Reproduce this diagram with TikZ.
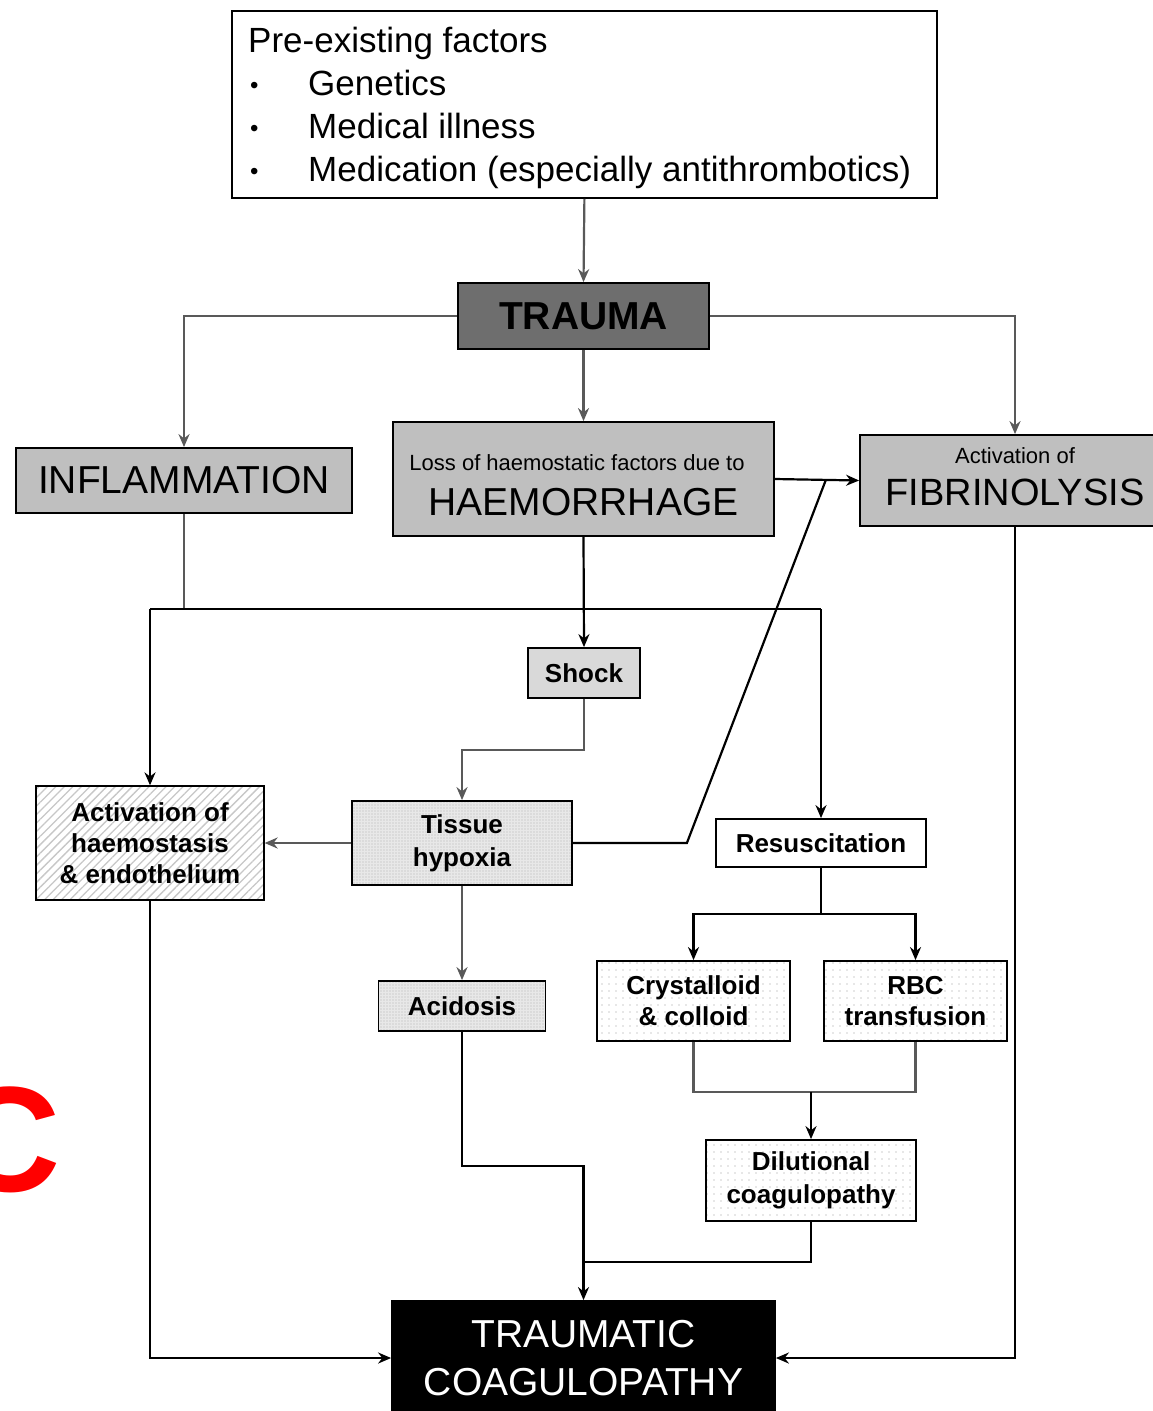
\documentclass[tikz,border=0pt]{standalone}
\usepackage{fontspec}
\setmainfont{Liberation Sans}
\usetikzlibrary{arrows.meta,patterns.meta,calc}
\begin{document}
\begin{tikzpicture}[x=1pt,y=-1pt,
  box/.style={draw=black,line width=1.8pt,inner sep=0pt,align=center,text=black},
  bold26/.style={font=\fontsize{26}{31}\selectfont\bfseries},
  conn/.style={draw=black!65,line width=2.2pt},
  blk/.style={draw=black,line width=2.2pt},
  arr/.style={-{Stealth[length=13pt,width=11pt]}},
  densedots/.style={preaction={fill=black!9},pattern={Dots[distance=3pt,radius=0.55pt]},pattern color=black!30},
  sparsedots/.style={preaction={fill=white},pattern={Dots[distance=7pt,radius=0.7pt]},pattern color=black!40},
  hatch/.style={preaction={fill=white},pattern={Lines[angle=45,distance=6pt,line width=1.3pt]},pattern color=black!22}
]
\useasboundingbox (0,0) rectangle (1153,1411);

% panel label
\node[text=red,draw=red,line width=3pt,inner sep=0pt,font=\fontsize{150}{150}\selectfont\bfseries,draw=none] (lblC) at (7,1140) {C};

% top box
\node[box,anchor=north west,minimum width=705pt,minimum height=187pt] (pre) at (231,10) {};
\begin{scope}[every node/.style={anchor=base west,inner sep=0pt,font=\fontsize{35}{43}\selectfont}]
\node (pre1) at (248,52) {Pre-existing factors};
\node[font=\fontsize{24}{43}\selectfont] (b1) at (250,93) {•};
\node (pre2) at (308,95) {Genetics};
\node[font=\fontsize{24}{43}\selectfont] (b2) at (250,136) {•};
\node (pre3) at (308,138) {Medical illness};
\node[font=\fontsize{24}{43}\selectfont] (b3) at (250,179) {•};
\node (pre4) at (308,181) {Medication (especially antithrombotics)};
\end{scope}

% main nodes
\node[box,fill=black!57,minimum width=251pt,minimum height=66pt,font=\fontsize{39}{44}\selectfont\bfseries] (trauma) at (583.5,316) {TRAUMA};
\node[box,fill=black!25,minimum width=336pt,minimum height=65pt,font=\fontsize{39}{44}\selectfont] (infl) at (184,480.5) {INFLAMMATION};
\node[box,fill=black!25,minimum width=381pt,minimum height=114pt] (haem) at (583.5,479) {};
\node[inner sep=0pt,font=\fontsize{22}{24}\selectfont] (haemA) at (577,463) {Loss of haemostatic factors due to};
\node[inner sep=0pt,font=\fontsize{39}{44}\selectfont] (haemB) at (583.5,502) {HAEMORRHAGE};
\node[box,fill=black!25,minimum width=310pt,minimum height=91pt] (fib) at (1015,480.5) {};
\node[inner sep=0pt,font=\fontsize{22}{24}\selectfont] (fibA) at (1015,456) {Activation of};
\node[inner sep=0pt,font=\fontsize{38}{44}\selectfont] (fibB) at (1015,492) {FIBRINOLYSIS};

\node[box,fill=black!15,minimum width=112pt,minimum height=50pt,bold26] (shock) at (584,673) {Shock};
\node[box,hatch,minimum width=228pt,minimum height=114pt,bold26] (act) at (150,843) {Activation of\\haemostasis\\\& endothelium};
\node[box,densedots,minimum width=220pt,minimum height=84pt,font=\fontsize{26}{33}\selectfont\bfseries] (hyp) at (462,843) {Tissue\\hypoxia};
\node[box,fill=white,minimum width=210pt,minimum height=48pt,bold26] (resus) at (821,843) {Resuscitation};
\node[box,sparsedots,minimum width=193pt,minimum height=80pt,bold26] (cryst) at (693.5,1001) {Crystalloid\\\& colloid};
\node[box,sparsedots,minimum width=183pt,minimum height=80pt,bold26] (rbc) at (915.5,1001) {RBC\\transfusion};
\node[box,densedots,minimum width=167pt,minimum height=50pt,bold26] (acid) at (462,1006) {Acidosis};
\node[box,sparsedots,minimum width=210pt,minimum height=81pt,font=\fontsize{26}{33}\selectfont\bfseries] (dil) at (811,1180.5) {Dilutional\\coagulopathy};
\node[box,fill=black,text=white,minimum width=383pt,minimum height=114pt,font=\fontsize{39}{48}\selectfont] (tc) at (583.5,1358) {TRAUMATIC\\COAGULOPATHY};

% connectors
\coordinate (hl) at (0,609);
\draw[conn,arr] (pre.south) -- (trauma.north);
\draw[conn,arr] (trauma.west) -| (infl.north);
\draw[conn,arr] (trauma.south) -- (haem.north);
\draw[conn,arr] (trauma.east) -| (fib.north);
\draw[blk,arr] (haem.east) -- (fib.west);
\draw[blk,arr] (haem.south) -- (shock.north);
\draw[conn] (infl.south) -- (infl.south |- hl);
\draw[blk] (hl -| act.north) -- (hl -| resus.north);
\draw[blk,arr] (hl -| act.north) -- (act.north);
\draw[blk,arr] (hl -| resus.north) -- (resus.north);
\draw[conn,arr] (shock.south) -- ++(0,51) -| (hyp.north);
\draw[conn,arr] (hyp.west) -- (act.east);
\draw[blk] (hyp.east) -- ++(114,0) -- ($(haem.east)!0.605!(fib.west)$);
\draw[conn,arr] (hyp.south) -- (acid.north);
\draw[blk] (resus.south) -- ++(0,46) coordinate (rj);
\draw[blk,arr] (rj) -| (cryst.north);
\draw[blk,arr] (rj) -| (rbc.north);
\draw[conn] (cryst.south) -- ++(0,50) coordinate (cj) -| (rbc.south);
\draw[blk,arr] (cj -| dil.north) -- (dil.north);
\draw[blk,arr] (acid.south) -- ++(0,134) -| (tc.north);
\draw[blk] (dil.south) -- ++(0,40) coordinate (dj) -- (dj -| tc.north);
\draw[blk,arr] (act.south) |- (tc.west);
\draw[blk,arr] (fib.south) |- (tc.east);
\end{tikzpicture}
\end{document}
